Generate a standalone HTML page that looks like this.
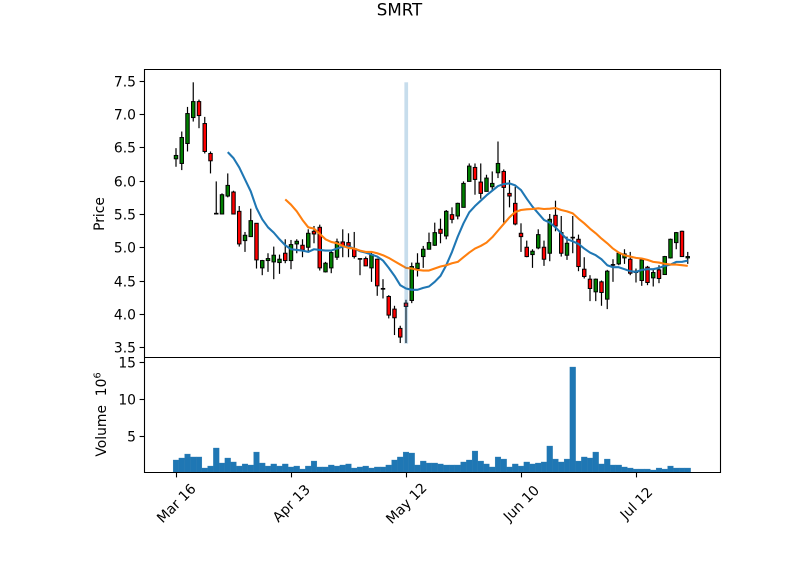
<!DOCTYPE html>
<html lang="en">
<head>
<meta charset="utf-8">
<title>SMRT</title>
<style>
html,body{margin:0;padding:0;background:#fff;}
svg{display:block;}
text{font-family:"DejaVu Sans","Liberation Sans",sans-serif;fill:#000;}
</style>
</head>
<body>
<svg id="chart" width="800" height="575" viewBox="0 0 800 575" xmlns="http://www.w3.org/2000/svg">
  <rect x="0" y="0" width="800" height="575" fill="#fff"/>
  <text x="399.5" y="15.5" text-anchor="middle" font-size="16.67">SMRT</text>
  <g id="vol-layer"></g>
  <g id="candle-layer"></g>
  <g id="line-layer"></g>
  <g id="band-layer"></g>
  <g id="axis-layer"></g>
  <text transform="translate(104,214) rotate(-90)" text-anchor="middle" font-size="13.89">Price</text>
  <text transform="translate(106,414.5) rotate(-90)" text-anchor="middle" font-size="13.89">Volume&#160;&#160;10<tspan dy="-5.5" font-size="9.7">6</tspan></text>
</svg>
<script>
const opens=[6.33,6.26,6.56,6.95,7.19,6.86,6.41,5.50,5.50,5.77,5.83,5.54,5.10,5.16,5.36,4.69,4.80,4.78,4.77,4.91,4.80,5.05,5.03,5.00,5.24,5.30,4.63,4.69,4.85,5.08,5.07,4.98,4.82,4.83,4.69,4.82,4.37,4.26,4.07,3.78,4.16,4.20,4.68,4.86,4.97,5.03,5.27,5.17,5.49,5.47,5.60,5.99,6.20,5.98,5.84,5.91,6.12,6.14,5.81,5.66,5.21,5.00,4.89,4.99,5.00,4.91,5.48,5.22,4.88,5.14,5.12,4.67,4.52,4.33,4.48,4.22,4.73,4.75,4.84,4.82,4.62,4.50,4.70,4.54,4.66,4.59,4.84,5.07,5.24,4.84];
const highs=[6.49,6.74,7.11,7.48,7.22,6.96,6.44,5.99,5.81,6.11,5.85,5.62,5.23,5.58,5.36,4.81,4.91,5.01,4.89,5.12,5.11,5.12,5.12,5.27,5.32,5.34,4.78,4.96,5.13,5.27,5.21,5.23,4.83,4.86,4.93,4.83,4.52,4.28,4.12,3.82,4.21,4.77,4.91,5.02,5.22,5.37,5.43,5.56,5.60,5.67,5.99,6.26,6.26,6.26,6.09,6.14,6.59,6.17,6.01,5.91,5.36,5.10,4.97,5.27,5.10,5.50,5.70,5.47,5.16,5.47,5.19,4.85,4.58,4.53,4.50,4.66,4.82,4.93,4.97,4.93,4.68,4.83,4.72,4.66,4.73,4.87,5.13,5.23,5.25,4.93];
const lows=[6.21,6.16,6.44,6.89,6.79,6.41,6.11,5.50,5.50,5.75,5.50,5.01,4.93,5.16,4.68,4.58,4.63,4.52,4.60,4.76,4.67,4.91,4.85,4.93,5.06,4.65,4.62,4.61,4.81,4.85,4.85,4.83,4.58,4.72,4.48,4.27,4.23,3.93,3.68,3.56,3.56,4.16,4.56,4.69,4.97,5.02,5.06,5.12,5.36,5.42,5.60,5.99,5.79,5.73,5.84,5.84,6.04,5.37,5.60,5.33,4.93,4.85,4.69,4.97,4.72,4.79,5.24,4.86,4.81,4.91,4.64,4.53,4.19,4.19,4.12,4.07,4.48,4.73,4.75,4.58,4.47,4.42,4.43,4.41,4.46,4.59,4.83,4.97,4.86,4.75];
const closes=[6.38,6.65,7.01,7.19,6.98,6.44,6.30,5.51,5.79,5.93,5.50,5.05,5.18,5.40,4.81,4.80,4.83,4.88,4.82,4.80,5.04,5.09,4.96,5.21,5.20,4.69,4.76,4.92,5.08,5.02,5.02,4.86,4.83,4.72,4.89,4.42,4.38,3.98,3.94,3.65,4.11,4.71,4.76,4.97,5.07,5.22,5.21,5.54,5.42,5.66,5.96,6.22,6.02,5.81,6.04,5.96,6.26,5.90,5.77,5.35,5.16,4.86,4.94,5.19,4.82,5.42,5.32,4.91,5.06,5.15,4.71,4.56,4.38,4.52,4.32,4.64,4.74,4.91,4.90,4.61,4.64,4.81,4.47,4.62,4.53,4.86,5.12,5.22,4.86,4.86];
const volumes=[1.74,2.01,2.55,2.15,2.15,0.65,0.92,3.37,1.33,2.01,1.47,0.92,1.20,1.06,2.82,1.33,0.92,1.20,0.92,1.20,0.79,0.92,0.51,0.92,1.60,0.79,0.79,1.06,0.92,1.06,1.20,0.65,0.79,0.92,0.65,0.79,0.79,1.06,1.74,2.15,2.82,2.69,1.06,1.60,1.33,1.33,1.20,1.06,1.06,1.06,1.47,1.74,2.96,1.60,1.20,0.79,2.15,1.87,0.79,1.20,0.92,1.47,1.20,1.33,1.47,3.64,1.87,1.47,1.87,14.37,1.60,2.15,2.01,2.82,1.20,1.87,1.06,1.06,0.79,0.65,0.51,0.51,0.51,0.38,0.65,0.51,0.92,0.65,0.65,0.65];
const maShort=[null,null,null,null,null,null,null,null,null,6.43,6.34,6.20,6.02,5.84,5.59,5.42,5.30,5.22,5.12,5.03,4.97,4.96,4.95,4.93,4.97,4.96,4.95,4.95,4.98,5.01,5.01,4.98,4.94,4.92,4.89,4.86,4.80,4.69,4.57,4.43,4.38,4.36,4.36,4.39,4.41,4.48,4.57,4.73,4.93,5.16,5.36,5.525,5.62,5.70,5.78,5.85,5.92,5.95,5.96,5.93,5.86,5.73,5.61,5.51,5.41,5.37,5.30,5.21,5.12,5.09,5.05,4.98,4.92,4.88,4.82,4.73,4.70,4.70,4.67,4.64,4.63,4.66,4.67,4.67,4.69,4.72,4.74,4.78,4.78,4.80];
const maLong=[null,null,null,null,null,null,null,null,null,null,null,null,null,null,null,null,null,null,null,5.72,5.64,5.54,5.41,5.30,5.28,5.20,5.12,5.08,5.06,5.02,4.99,4.98,4.95,4.93,4.93,4.91,4.88,4.84,4.79,4.74,4.69,4.68,4.66,4.65,4.65,4.68,4.71,4.73,4.76,4.78,4.85,4.92,4.98,5.02,5.07,5.15,5.25,5.35,5.45,5.53,5.56,5.57,5.575,5.585,5.575,5.58,5.59,5.56,5.54,5.51,5.43,5.36,5.28,5.21,5.13,5.06,4.98,4.92,4.88,4.86,4.84,4.83,4.81,4.78,4.77,4.75,4.74,4.74,4.73,4.72];
const priceTicks=[3.5,4.0,4.5,5.0,5.5,6.0,6.5,7.0,7.5];
const priceTickLabels=["3.5","4.0","4.5","5.0","5.5","6.0","6.5","7.0","7.5"];
const volumeTicks=[5,10,15];
const volumeTickLabels=["5","10","15"];
const dateTicks=[0,20,40,60,80];
const dateTickLabels=["Mar 16","Apr 13","May 12","Jun 10","Jul 12"];
const bandIndex=[40];
const bandHigh=[7.48];
const bandLow=[3.55];

const NS='http://www.w3.org/2000/svg';
const LEFT=144,RIGHT=720,PTOP=69,PBOT=357,VBOT=472;
const xDomain=[-5.565,94.61],pDomain=[3.35,7.68],vDomain=[0.11,15.73];
const sx=i=>LEFT+(i-xDomain[0])/(xDomain[1]-xDomain[0])*(RIGHT-LEFT);
const sp=v=>PBOT-(v-pDomain[0])/(pDomain[1]-pDomain[0])*(PBOT-PTOP);
const sv=v=>VBOT-(v-vDomain[0])/(vDomain[1]-vDomain[0])*(VBOT-PBOT);
const step=sx(1)-sx(0);
function mk(tag,attrs,parent){
  const el=document.createElementNS(NS,tag);
  for(const k in attrs)el.setAttribute(k,attrs[k]);
  parent.appendChild(el);
  return el;
}
const volLayer=document.getElementById('vol-layer');
const candleLayer=document.getElementById('candle-layer');
const lineLayer=document.getElementById('line-layer');
const bandLayer=document.getElementById('band-layer');
const axisLayer=document.getElementById('axis-layer');

volumes.forEach((v,i)=>{
  const top=sv(v);
  const bar=mk('rect',{x:sx(i)-step/2,y:top,width:step,height:VBOT-top,fill:'#1f77b4',stroke:'#2a7ab0','stroke-width':0.3},volLayer);
  
  
});

opens.forEach((o,i)=>{
  const c=closes[i];
  const x=sx(i);
  const wick=mk('line',{x1:x,x2:x,y1:sp(highs[i]),y2:sp(lows[i]),stroke:'#000','stroke-width':1.2},candleLayer);
  
  
  const top=sp(Math.max(o,c)),bot=sp(Math.min(o,c));
  const body=mk('rect',{x:x-step*0.3,y:top,width:step*0.6,height:Math.max(bot-top,0.1),fill:c>=o?'#008000':'#ff0000',stroke:'#000','stroke-width':1},candleLayer);
  
  
});

function lineFrom(series,color,name){
  let d='';
  series.forEach((v,i)=>{
    if(v===null)return;
    d+=(d?'L':'M')+sx(i).toFixed(2)+' '+sp(v).toFixed(2);
  });
  const p=mk('path',{d:d,fill:'none',stroke:color,'stroke-width':2.08,'stroke-linejoin':'round'},lineLayer);
  
  
}
lineFrom(maShort,'#1f77b4','moving-average-short');
lineFrom(maLong,'#ff7f0e','moving-average-long');

bandIndex.forEach((idx,k)=>{
  const b=mk('rect',{x:sx(idx)-1.6,y:sp(bandHigh[k]),width:3.7,height:sp(bandLow[k])-sp(bandHigh[k]),fill:'#1f77b4',opacity:0.25},bandLayer);
  
  
});

function spine(x1,y1,x2,y2,name){
  const s=mk('line',{x1:x1,y1:y1,x2:x2,y2:y2,stroke:'#000','stroke-width':1.1},axisLayer);
  
  
}
spine(LEFT+.5,PTOP+.5,RIGHT+.5,PTOP+.5,'price-panel-top-spine');
spine(LEFT+.5,PBOT+.5,RIGHT+.5,PBOT+.5,'panel-divider-spine');
spine(LEFT+.5,VBOT+.5,RIGHT+.5,VBOT+.5,'volume-panel-bottom-spine');
spine(LEFT+.5,PTOP,LEFT+.5,VBOT+1,'left-spine');
spine(RIGHT+.5,PTOP,RIGHT+.5,VBOT+1,'right-spine');

function yTick(y,label,name){
  const ry=Math.round(y)+.5;
  const t=mk('line',{x1:LEFT+.5-4.9,x2:LEFT+.5,y1:ry,y2:ry,stroke:'#000','stroke-width':1.1},axisLayer);
  
  
  const txt=mk('text',{x:LEFT-8,y:ry+5,'text-anchor':'end','font-size':13.89},axisLayer);
  
  
  txt.textContent=label;
}
priceTicks.forEach((v,i)=>yTick(sp(v),priceTickLabels[i],'price-axis'));
volumeTicks.forEach((v,i)=>yTick(sv(v),volumeTickLabels[i],'volume-axis'));

dateTicks.forEach((idx,i)=>{
  const x=Math.round(sx(idx))+.5;
  const t=mk('line',{x1:x,x2:x,y1:VBOT+.5,y2:VBOT+5.4,stroke:'#000','stroke-width':1.1},axisLayer);
  
  
  const txt=mk('text',{transform:'translate('+x+','+(VBOT+31.5)+') rotate(-45)','text-anchor':'middle','font-size':13.89,dy:'4.5'},axisLayer);
  
  
  txt.textContent=dateTickLabels[i];
});
</script>
</body>
</html>
